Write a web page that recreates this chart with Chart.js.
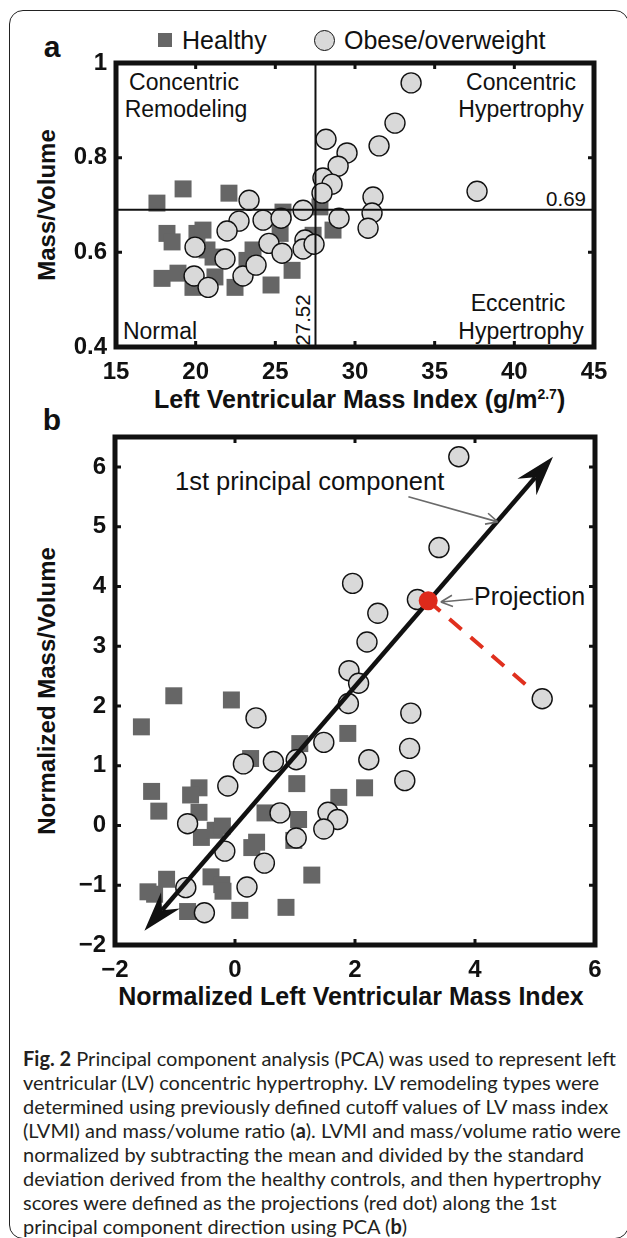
<!DOCTYPE html>
<html><head><meta charset="utf-8">
<script src="https://cdn.jsdelivr.net/npm/chart.js@4.4.1/dist/chart.umd.min.js"></script>
<style>
html,body{margin:0;padding:0;background:#fff;}
#page{position:relative;width:627px;height:1238px;overflow:hidden;font-family:'Liberation Sans',Arial,sans-serif;color:#111;}
canvas{position:absolute;left:0;top:0;}
.t{position:absolute;white-space:nowrap;line-height:1;}
.c{transform:translate(-50%,-50%);}
.l{transform:translateY(-50%);}
.r{transform:translate(-100%,-50%);}
.rot{transform:translate(-50%,-50%) rotate(-90deg);}
.b{font-weight:bold;}
#frame{position:absolute;left:9px;top:10px;width:620px;height:1229px;border:1.5px solid #222;border-radius:14px;box-sizing:border-box;}
.cap{position:absolute;left:23px;font-family:Lato,'Open Sans',sans-serif;font-size:20px;color:#231f20;white-space:nowrap;line-height:1;transform:translateY(-50%);}
.sq{position:absolute;background:#666;}
.ci{position:absolute;background:#d9d9d9;border:1.4px solid #111;border-radius:50%;box-sizing:border-box;}
</style></head>
<body>
<div id="page">
<div id="frame"></div>
<canvas id="ca" width="627" height="1238" style="width:627px;height:1238px;z-index:1"></canvas>
<canvas id="cb" width="627" height="1238" style="width:627px;height:1238px;z-index:2"></canvas>

<div class="t c b" style="left:52px;top:47px;font-size:30px">a</div>
<div class="sq" style="left:158px;top:33px;width:14px;height:14px"></div>
<div class="t l" style="left:182px;top:40px;font-size:25px">Healthy</div>
<div class="ci" style="left:314px;top:29.5px;width:21px;height:21px"></div>
<div class="t l" style="left:344px;top:40px;font-size:25px">Obese/overweight</div>

<div class="t c" style="left:184px;top:82px;font-size:23px">Concentric</div>
<div class="t c" style="left:186px;top:109px;font-size:23px">Remodeling</div>
<div class="t c" style="left:521px;top:82px;font-size:23px">Concentric</div>
<div class="t c" style="left:521px;top:109px;font-size:23px">Hypertrophy</div>
<div class="t c" style="left:160px;top:331px;font-size:23px">Normal</div>
<div class="t c" style="left:518px;top:303px;font-size:23px">Eccentric</div>
<div class="t c" style="left:521px;top:331px;font-size:23px">Hypertrophy</div>
<div class="t r" style="left:586px;top:199px;font-size:20.5px">0.69</div>
<div class="t rot" style="left:303px;top:320px;font-size:20.5px">27.52</div>
<div class="t rot b" style="left:47px;top:205px;font-size:24px">Mass/Volume</div>
<div class="t l b" style="left:154px;top:399px;font-size:25px">Left Ventricular Mass Index (g/m<span style="font-size:14px;position:relative;top:-9px">2.7</span>)</div>

<div class="t c b" style="left:52px;top:420px;font-size:30px">b</div>
<div class="t l" style="left:175px;top:482px;font-size:25.5px">1st principal component</div>
<div class="t l" style="left:474px;top:596px;font-size:25px">Projection</div>
<div class="t rot b" style="left:47px;top:691px;font-size:24px">Normalized Mass/Volume</div>
<div class="t c b" style="left:351px;top:996px;font-size:25px">Normalized Left Ventricular Mass Index</div>

<div class="cap" style="top:1058px"><b>Fig. 2</b> Principal component analysis (PCA) was used to represent left</div>
<div class="cap" style="top:1082px">ventricular (LV) concentric hypertrophy. LV remodeling types were</div>
<div class="cap" style="top:1106px">determined using previously defined cutoff values of LV mass index</div>
<div class="cap" style="top:1130px">(LVMI) and mass/volume ratio (<b>a</b>). LVMI and mass/volume ratio were</div>
<div class="cap" style="top:1154px">normalized by subtracting the mean and divided by the standard</div>
<div class="cap" style="top:1178px">deviation derived from the healthy controls, and then hypertrophy</div>
<div class="cap" style="top:1202px">scores were defined as the projections (red dot) along the 1st</div>
<div class="cap" style="top:1226px">principal component direction using PCA (<b>b</b>)</div>
</div>

<script>
// ---------- Panel a data (LVMI g/m^2.7, mass/volume) ----------
const healthyA_lvmi = [17.57,19.21,22.09,18.2,18.52,20.08,20.46,17.89,18.89,19.83,20.71,21.09,21.21,22.47,23.22,23.6,24.73,25.48,25.3,26.05,27.37,27.8,28.62];
const healthyA_mv   = [0.704,0.734,0.725,0.640,0.622,0.640,0.647,0.545,0.556,0.526,0.605,0.590,0.548,0.526,0.583,0.605,0.531,0.685,0.640,0.562,0.636,0.696,0.647];
const obeseA_lvmi = [23.35,22.72,21.97,19.96,21.84,19.9,20.78,22.97,23.79,24.23,25.36,24.6,25.42,26.74,26.86,26.74,27.43,33.52,32.51,31.51,28.18,29.5,28.94,27.99,28.56,27.93,29.0,31.13,31.07,30.82,37.66];
const obeseA_mv   = [0.710,0.666,0.645,0.611,0.586,0.550,0.526,0.550,0.573,0.668,0.672,0.619,0.598,0.689,0.626,0.607,0.617,0.958,0.873,0.825,0.839,0.810,0.782,0.757,0.744,0.725,0.672,0.717,0.683,0.651,0.729];
const cutoffLVMI = 27.52;
const cutoffMV = 0.69;
const xTicksA = ['15','20','25','30','35','40','45'];
const yTicksA = ['0.4','0.6','0.8','1'];

// ---------- Panel b data (normalized) ----------
const healthyB_x = [-1.02,-0.06,-1.56,0.26,1.08,1.88,-1.39,-0.60,-0.74,1.03,2.16,-1.27,-0.60,1.73,0.50,1.06,-0.56,-0.33,-0.21,0.28,0.36,0.98,1.28,-1.14,-1.45,-1.34,-0.40,-0.22,-0.20,-0.79,0.08,0.85];
const healthyB_y = [2.17,2.10,1.65,1.12,1.37,1.54,0.57,0.63,0.51,0.70,0.63,0.24,0.22,0.47,0.21,0.10,-0.20,-0.08,-0.01,-0.37,-0.28,-0.25,-0.83,-0.90,-1.11,-1.15,-0.86,-0.99,-1.10,-1.44,-1.42,-1.37];
const obeseB_x = [3.73,3.40,1.96,3.04,2.38,2.20,1.90,2.06,5.12,1.89,2.93,0.35,1.48,2.91,0.14,0.64,1.02,2.23,-0.12,2.83,-0.79,0.75,1.55,1.71,1.48,1.02,-0.17,0.49,-0.82,0.20,-0.51];
const obeseB_y = [6.17,4.65,4.05,3.78,3.55,3.07,2.59,2.38,2.12,2.04,1.88,1.80,1.39,1.29,1.03,1.07,1.10,1.10,0.66,0.75,0.03,0.21,0.22,0.10,-0.06,-0.21,-0.43,-0.63,-1.04,-1.03,-1.46];
const pcStart = [-1.51,-1.76];
const pcEnd = [5.30,6.17];
const projectionDot = [3.22,3.76];
const projectedPoint = [5.12,2.12];
const pcNoteArrow = [[2.89,5.50],[4.38,5.08]];
const projNoteArrow = [[3.97,3.79],[3.43,3.74]];
const xTicksB = ['\u22122','0','2','4','6'];
const yTicksB = ['\u22122','\u22121','0','1','2','3','4','5','6'];

const pts = (xs, ys) => xs.map((x, i) => ({x: x, y: ys[i]}));

Chart.defaults.font.family = "'Liberation Sans', Arial, sans-serif";
const tickFont = {size: 24, weight: 'bold'};

const frameAxes = {
  id: 'frameAxes',
  afterDatasetsDraw(chart) {
    const {ctx, chartArea: a, scales: {x, y}} = chart;
    ctx.save();
    ctx.strokeStyle = '#111';
    ctx.lineWidth = 3;
    const L = 6;
    ctx.beginPath();
    x.ticks.forEach(t => {
      const p = x.getPixelForValue(t.value);
      if (p < a.left + 3 || p > a.right - 3) return;
      ctx.moveTo(p, a.bottom); ctx.lineTo(p, a.bottom - L);
      ctx.moveTo(p, a.top); ctx.lineTo(p, a.top + L);
    });
    y.ticks.forEach(t => {
      const p = y.getPixelForValue(t.value);
      if (p < a.top + 3 || p > a.bottom - 3) return;
      ctx.moveTo(a.left, p); ctx.lineTo(a.left + L, p);
      ctx.moveTo(a.right, p); ctx.lineTo(a.right - L, p);
    });
    ctx.stroke();
    ctx.lineWidth = 5;
    ctx.strokeRect(a.left, a.top, a.right - a.left, a.bottom - a.top);
    ctx.restore();
  }
};

const pcArrows = {
  id: 'pcArrows',
  afterDatasetDraw(chart, args) {
    if (chart.data.datasets[args.index].label !== 'Obese/overweight') return;
    const {ctx, scales: {x, y}} = chart;
    const P = p => [x.getPixelForValue(p[0]), y.getPixelForValue(p[1])];
    const s = P(pcStart), e = P(pcEnd);
    const dx = e[0] - s[0], dy = e[1] - s[1], len = Math.hypot(dx, dy);
    const ux = dx / len, uy = dy / len;
    const H = 40, W = 12.5, N = 27;
    ctx.save();
    ctx.strokeStyle = '#111'; ctx.fillStyle = '#111'; ctx.lineWidth = 4.5;
    ctx.beginPath();
    ctx.moveTo(s[0] + ux * N, s[1] + uy * N);
    ctx.lineTo(e[0] - ux * N, e[1] - uy * N);
    ctx.stroke();
    const head = (t, vx, vy) => {
      const nx = -vy, ny = vx;
      ctx.beginPath();
      ctx.moveTo(t[0], t[1]);
      ctx.lineTo(t[0] - vx * H + nx * W, t[1] - vy * H + ny * W);
      ctx.lineTo(t[0] - vx * N, t[1] - vy * N);
      ctx.lineTo(t[0] - vx * H - nx * W, t[1] - vy * H - ny * W);
      ctx.closePath();
      ctx.fill();
    };
    head(e, ux, uy);
    head(s, -ux, -uy);
    ctx.restore();
  },
  afterDatasetsDraw(chart) {
    const {ctx, scales: {x, y}} = chart;
    const P = p => [x.getPixelForValue(p[0]), y.getPixelForValue(p[1])];
    ctx.save();
    ctx.strokeStyle = '#6a6a6a'; ctx.lineWidth = 1.6;
    [pcNoteArrow, projNoteArrow].forEach(arr => {
      const a0 = P(arr[0]), a1 = P(arr[1]);
      const ang = Math.atan2(a1[1] - a0[1], a1[0] - a0[0]);
      ctx.beginPath();
      ctx.moveTo(a0[0], a0[1]); ctx.lineTo(a1[0], a1[1]);
      [0.45, -0.45].forEach(d => {
        ctx.moveTo(a1[0], a1[1]);
        ctx.lineTo(a1[0] - 13 * Math.cos(ang + d), a1[1] - 13 * Math.sin(ang + d));
      });
      ctx.stroke();
    });
    ctx.restore();
  }
};

const baseOpts = (xmin, xmax, xstep, xLabels, ymin, ymax, ystep, yLabels, area) => ({
  responsive: false, animation: false, devicePixelRatio: 1,
  events: [],
  layout: {padding: {top: area.top, right: 627 - area.right, left: 0, bottom: 0}},
  plugins: {legend: {display: false}, tooltip: {enabled: false}},
  scales: {
    x: {type: 'linear', min: xmin, max: xmax,
        afterFit: s => { s.height = 1238 - area.bottom; },
        ticks: {stepSize: xstep, includeBounds: false, autoSkip: false, maxRotation: 0, font: tickFont, color: '#111', padding: 11,
                callback: (v, i) => xLabels[i]},
        grid: {display: false, drawTicks: false}, border: {display: false}},
    y: {type: 'linear', min: ymin, max: ymax,
        afterFit: s => { s.width = area.left; },
        ticks: {stepSize: ystep, includeBounds: false, autoSkip: false, font: tickFont, color: '#111', padding: 9,
                callback: (v, i) => yLabels[i]},
        grid: {display: false, drawTicks: false}, border: {display: false}}
  }
});

new Chart(document.getElementById('ca'), {
  type: 'scatter',
  data: {datasets: [
    {label: 'LVMI cutoff', data: [{x: cutoffLVMI, y: 0.4}, {x: cutoffLVMI, y: 1}], showLine: true, borderColor: '#111', borderWidth: 2, pointRadius: 0, order: 0},
    {label: 'M/V cutoff', data: [{x: 15, y: cutoffMV}, {x: 45, y: cutoffMV}], showLine: true, borderColor: '#111', borderWidth: 2, pointRadius: 0, order: 0},
    {label: 'Obese/overweight', data: pts(obeseA_lvmi, obeseA_mv), pointStyle: 'circle', pointRadius: 10, backgroundColor: '#d9d9d9', borderColor: '#111', borderWidth: 1.4, order: 1},
    {label: 'Healthy', data: pts(healthyA_lvmi, healthyA_mv), pointStyle: 'rect', pointRadius: 12, backgroundColor: '#666', borderWidth: 0, order: 2}
  ]},
  options: baseOpts(15, 45, 5, xTicksA, 0.4, 1.0, 0.2, yTicksA, {left: 116, right: 594, top: 63, bottom: 347}),
  plugins: [frameAxes]
});

new Chart(document.getElementById('cb'), {
  type: 'scatter',
  data: {datasets: [
    {label: 'Projection dot', data: [{x: projectionDot[0], y: projectionDot[1]}], pointStyle: 'circle', pointRadius: 9.5, backgroundColor: '#dd2a1b', borderWidth: 0, order: 0},
    {label: 'Obese/overweight', data: pts(obeseB_x, obeseB_y), pointStyle: 'circle', pointRadius: 10, backgroundColor: '#d9d9d9', borderColor: '#111', borderWidth: 1.4, order: 2},
    {label: 'Projection line', data: [{x: projectionDot[0], y: projectionDot[1]}, {x: projectedPoint[0], y: projectedPoint[1]}], showLine: true, borderColor: '#e0301e', borderWidth: 4, borderDash: [16, 12], pointRadius: 0, order: 3},
    {label: 'Healthy', data: pts(healthyB_x, healthyB_y), pointStyle: 'rect', pointRadius: 12, backgroundColor: '#666', borderWidth: 0, order: 4}
  ]},
  options: baseOpts(-2, 6, 2, xTicksB, -2, 6.5, 1, yTicksB, {left: 115, right: 595, top: 437, bottom: 945}),
  plugins: [pcArrows, frameAxes]
});
</script>
</body></html>
